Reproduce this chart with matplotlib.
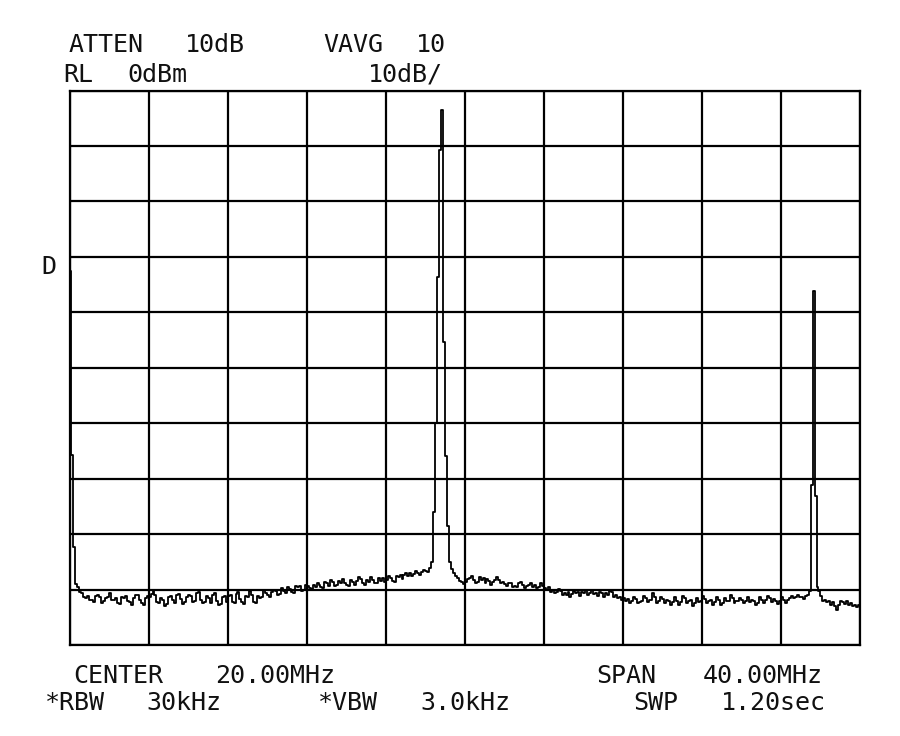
import numpy as np
import matplotlib
matplotlib.use("Agg")
import matplotlib.pyplot as plt

# ---- sweep settings ----
freq_start_mhz = 0.0
freq_stop_mhz = 40.0
ref_level_dbm = 0.0
db_per_div = 10.0
n_div = 10

# ---- trace (401 sweep points, dBm) ----
trace_dbm = [
    -32.6, -65.7, -82.4, -89.0, -89.6, -90.4, -90.6, -91.4, -91.6, -91.2, -91.9, -91.8, -92.3, -91.2, -91.0, -91.3, -92.4, -92.1, -91.5, -91.3,
    -90.6, -91.8, -91.9, -91.5, -92.4, -92.6, -91.3, -91.6, -91.1, -92.1, -92.3, -92.7, -91.6, -90.9, -91.0, -91.8, -92.5, -92.8, -91.5, -91.2,
    -91.4, -90.8, -90.1, -91.0, -92.2, -92.5, -91.6, -91.9, -92.9, -92.6, -91.4, -91.2, -91.9, -92.4, -91.0, -90.8, -91.7, -92.6, -92.3, -91.3,
    -90.9, -91.2, -92.2, -92.0, -90.6, -90.4, -91.8, -92.5, -92.3, -91.2, -91.6, -92.4, -91.0, -90.6, -92.1, -92.8, -92.6, -91.4, -91.1, -92.3,
    -91.2, -91.0, -92.2, -92.4, -90.8, -90.5, -91.7, -92.3, -92.6, -91.1, -91.3, -90.2, -90.9, -92.2, -92.5, -91.2, -91.6, -91.4, -90.1, -90.6,
    -90.9, -91.3, -90.4, -90.1, -90.2, -91.0, -90.8, -89.8, -90.3, -90.6, -89.5, -89.9, -90.4, -90.6, -89.4, -89.6, -89.3, -90.2, -90.0, -89.1,
    -89.4, -89.8, -89.9, -89.2, -89.5, -88.9, -89.1, -89.6, -89.8, -88.6, -88.9, -89.4, -88.3, -88.6, -89.3, -89.1, -88.4, -88.8, -88.1, -88.9,
    -89.1, -89.3, -88.2, -88.6, -89.2, -88.5, -87.8, -88.1, -88.9, -89.2, -88.3, -88.6, -87.7, -88.2, -88.8, -88.9, -87.9, -88.4, -88.0, -88.7,
    -88.3, -87.5, -87.9, -88.4, -88.6, -87.6, -87.8, -87.3, -88.1, -87.4, -87.0, -87.6, -87.1, -87.5, -87.2, -86.6, -87.0, -87.3, -86.8, -86.4,
    -86.7, -86.9, -86.2, -85.1, -76.1, -59.9, -33.6, -10.7, -3.5, -45.3, -66.0, -78.6, -85.1, -86.3, -87.0, -87.6, -88.0, -88.4, -88.6, -89.0,
    -88.6, -88.1, -87.9, -87.6, -88.3, -88.9, -88.7, -87.8, -88.2, -88.0, -88.8, -88.1, -88.4, -89.1, -88.6, -88.3, -87.7, -88.2, -88.9, -88.6,
    -89.0, -89.4, -88.8, -88.9, -89.6, -89.3, -89.5, -88.8, -88.6, -89.1, -89.8, -89.4, -89.2, -88.9, -89.6, -89.2, -89.8, -89.5, -88.9, -89.3,
    -89.7, -90.1, -89.6, -90.4, -90.1, -90.7, -90.5, -89.9, -90.3, -91.0, -90.6, -90.9, -90.4, -91.3, -90.8, -90.2, -90.6, -90.5, -91.2, -90.4,
    -90.6, -90.1, -90.9, -90.7, -90.0, -90.8, -90.6, -91.2, -90.4, -90.7, -91.3, -90.6, -90.9, -90.2, -90.5, -91.4, -91.0, -91.6, -91.4, -91.8,
    -91.5, -92.1, -91.7, -92.4, -92.0, -91.3, -91.7, -92.5, -92.2, -92.0, -91.1, -91.5, -92.3, -91.9, -91.8, -90.6, -91.3, -92.4, -92.1, -91.4,
    -91.7, -92.4, -91.9, -92.0, -92.7, -92.2, -91.3, -92.0, -92.8, -92.3, -91.2, -91.6, -92.4, -92.0, -91.9, -92.9, -92.5, -91.6, -92.2, -92.0,
    -91.2, -91.7, -92.5, -92.1, -91.9, -92.7, -92.3, -91.3, -91.9, -92.8, -92.4, -91.5, -92.1, -92.0, -91.0, -91.6, -92.5, -92.0, -92.1, -91.6,
    -91.8, -92.5, -92.0, -91.3, -92.2, -91.8, -92.0, -92.8, -92.4, -91.4, -91.9, -92.5, -91.9, -91.2, -91.6, -92.3, -91.7, -92.0, -92.6, -92.0,
    -91.4, -91.9, -92.4, -91.9, -91.6, -91.2, -91.6, -91.4, -90.9, -91.4, -91.3, -91.7, -91.2, -90.9, -90.3, -71.1, -36.2, -73.2, -89.5, -90.2,
    -91.2, -92.1, -91.8, -92.3, -92.0, -92.7, -92.2, -93.0, -93.6, -92.8, -92.0, -92.2, -92.6, -92.1, -92.8, -92.4, -93.0, -92.7, -93.2, -92.8,
    -93.1,
]

# ---- annotation text (word, centre x px, baseline y px) ----
top_words = [
    ("ATTEN", 106, 52.5), ("10dB", 215, 52.5), ("VAVG", 353, 52.5), ("10", 431, 52.5),
    ("RL", 78, 81.5), ("0dBm", 157, 81.5), ("10dB/", 405, 81.5),
]
bottom_words = [
    ("CENTER", 118, 683), ("20.00MHz", 275, 683), ("SPAN", 626, 683), ("40.00MHz", 763, 683),
    ("*RBW", 75, 710), ("30kHz", 184, 710), ("*VBW", 348, 710), ("3.0kHz", 465, 710),
    ("SWP", 656, 710), ("1.20sec", 773, 710),
]
marker_label = ("D", 49, 274)

W, H = 900, 736
fig = plt.figure(figsize=(W / 100, H / 100), dpi=100)
fig.patch.set_facecolor("white")

left_px, right_px, top_px, bottom_px = 69.5, 860.0, 90.5, 645.0
ax = fig.add_axes([left_px / W, 1 - bottom_px / H, (right_px - left_px) / W, (bottom_px - top_px) / H])

freqs = np.linspace(freq_start_mhz, freq_stop_mhz, len(trace_dbm))
ax.plot(freqs, trace_dbm, color="black", lw=1.3, drawstyle="steps-post")

ax.set_xlim(freq_start_mhz, freq_stop_mhz)
ax.set_ylim(ref_level_dbm - n_div * db_per_div, ref_level_dbm)
ax.set_xticks(np.linspace(freq_start_mhz, freq_stop_mhz, n_div + 1))
ax.set_yticks(np.linspace(ref_level_dbm - n_div * db_per_div, ref_level_dbm, n_div + 1))
ax.tick_params(length=0, labelbottom=False, labelleft=False)
ax.grid(True, color="black", lw=1.6)
ax.set_axisbelow(True)
for s in ax.spines.values():
    s.set_color("black")
    s.set_linewidth(1.6)

font = dict(family="DejaVu Sans Mono", fontsize=18, color="#111111")
for word, x, y in top_words + bottom_words:
    fig.text(x / W, 1 - y / H, word, ha="center", va="baseline", **font)
fig.text(marker_label[1] / W, 1 - marker_label[2] / H, marker_label[0], ha="center", va="baseline", **font)

fig.savefig("out.png", dpi=100, facecolor="white")
